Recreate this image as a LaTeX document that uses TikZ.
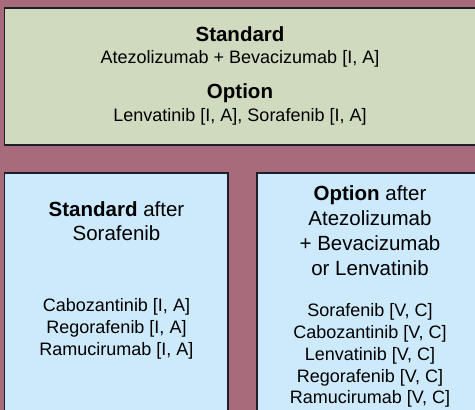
\documentclass[tikz,border=0pt]{standalone}
\usepackage{fontspec}
\setmainfont{Liberation Sans}
\definecolor{bgc}{HTML}{A86B7B}
\definecolor{topc}{HTML}{D0DABE}
\definecolor{lowc}{HTML}{CCEAFB}
\definecolor{edgec}{HTML}{1E1E28}
\begin{document}
\begin{tikzpicture}[x=1pt,y=-1pt,
  boxline/.style={draw=edgec,line width=1.6pt},
  body/.style={anchor=base,inner sep=0pt,font=\fontsize{18}{22}\selectfont},
  head/.style={anchor=base,inner sep=0pt,font=\fontsize{20.5}{25}\selectfont}]
\useasboundingbox (0,0) rectangle (475,410);
\clip (0,0) rectangle (475,410);
\fill[bgc] (0,0) rectangle (475,410);
\draw[boxline,fill=topc] (4.5,8) rectangle (478,145);
\draw[boxline,fill=lowc] (4.5,173) rectangle (228,418);
\draw[boxline,fill=lowc] (257,173) rectangle (486,418);
% top box
\node[head] (t1) at (240,41) {\textbf{Standard}};
\node[body] (t2) at (240,63) {Atezolizumab + Bevacizumab [I, A]};
\node[head] (t3) at (240,98) {\textbf{Option}};
\node[body] (t4) at (240,121) {Lenvatinib [I, A], Sorafenib [I, A]};
% left box
\node[head] (l1) at (116.5,216) {\textbf{Standard} after};
\node[head] (l2) at (116.5,240) {Sorafenib};
\node[body] (l3) at (116.5,311) {Cabozantinib [I, A]};
\node[body] (l4) at (116.5,333) {Regorafenib [I, A]};
\node[body] (l5) at (116.5,355) {Ramucirumab [I, A]};
% right box
\node[head] (r1) at (370,200) {\textbf{Option} after};
\node[head] (r2) at (370,225) {Atezolizumab};
\node[head] (r3) at (370,250) {+ Bevacizumab};
\node[head] (r4) at (370,275) {or Lenvatinib};
\node[body] (r5) at (370,316) {Sorafenib [V, C]};
\node[body] (r6) at (370,338) {Cabozantinib [V, C]};
\node[body] (r7) at (370,360) {Lenvatinib [V, C]};
\node[body] (r8) at (370,382) {Regorafenib [V, C]};
\node[body] (r9) at (370,403) {Ramucirumab [V, C]};
\end{tikzpicture}
\end{document}
